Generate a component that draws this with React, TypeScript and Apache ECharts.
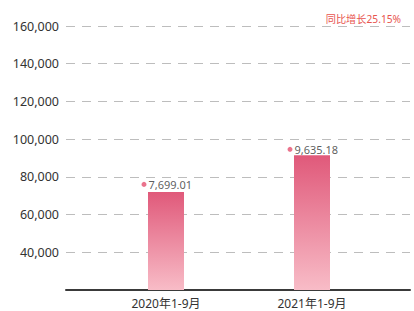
import React, { useEffect, useRef } from "react";
import * as echarts from "echarts";

const categories = ["2020年1-9月", "2021年1-9月"];
const barValues = [72000, 91500];
const dotValues = [76000, 94600];
const labelValues = [7699.01, 9635.18];
const yTicks = { min: 20000, max: 160000, interval: 20000 };
const growthText = "同比增长25.15%";

const FONT = "'Noto Sans', 'Noto Sans CJK SC', sans-serif";

export default function App() {
  const ref = useRef<HTMLDivElement>(null);
  useEffect(() => {
    if (!ref.current) return;
    const chart = echarts.init(ref.current, null, { renderer: "svg" });
    const fmt = (v: number) =>
      v.toLocaleString("en-US", { minimumFractionDigits: 2, maximumFractionDigits: 2 });
    chart.setOption({
      animation: false,
      textStyle: { fontFamily: FONT },
      grid: [
        { left: 66, right: 4, top: 26, bottom: 21 },
        { left: 93, right: 29, top: 26, bottom: 21 },
      ],
      xAxis: [
        {
          type: "category",
          gridIndex: 0,
          data: categories,
          axisLabel: { show: false },
          axisTick: { show: false },
          axisLine: { show: true, lineStyle: { color: "#3a3a3a", width: 2 } },
        },
        {
          type: "category",
          gridIndex: 1,
          data: categories,
          axisLine: { show: false },
          axisTick: { show: false },
          axisLabel: { color: "#333", fontSize: 12, margin: 7, fontFamily: FONT },
        },
      ],
      yAxis: [
        {
          type: "value",
          gridIndex: 0,
          min: yTicks.min,
          max: yTicks.max,
          interval: yTicks.interval,
          axisLine: { show: false },
          axisTick: { show: false },
          axisLabel: {
            color: "#333",
            fontSize: 12.5,
            margin: 7,
            fontFamily: FONT,
            formatter: (v: number) => (v === yTicks.min ? "" : v.toLocaleString("en-US")),
          },
          splitLine: {
            show: true,
            lineStyle: { color: "#bdbdbd", type: [9, 7], width: 1 },
          },
        },
        {
          type: "value",
          gridIndex: 1,
          min: yTicks.min,
          max: yTicks.max,
          interval: yTicks.interval,
          show: false,
          splitLine: { show: false },
        },
      ],
      graphic: [
        {
          type: "text",
          right: 13,
          top: 14,
          style: { text: growthText, fill: "#e8544e", fontSize: 10.2, fontFamily: FONT },
        },
      ],
      series: [
        {
          type: "bar",
          xAxisIndex: 1,
          yAxisIndex: 1,
          data: barValues,
          barWidth: 36,
          itemStyle: {
            color: new echarts.graphic.LinearGradient(0, 0, 0, 1, [
              { offset: 0, color: "#e0597a" },
              { offset: 1, color: "#f8bcc7" },
            ]),
          },
        },
        {
          type: "scatter",
          xAxisIndex: 1,
          yAxisIndex: 1,
          data: dotValues,
          symbol: "circle",
          symbolSize: 5,
          symbolOffset: [-22, 0],
          itemStyle: { color: "#e5506f" },
          z: 5,
          label: {
            show: true,
            position: "right",
            distance: 2,
            color: "#333",
            fontSize: 11,
            fontFamily: FONT,
            formatter: (p: any) => fmt(labelValues[p.dataIndex]),
          },
        },
      ],
    });
    return () => chart.dispose();
  }, []);
  return (
    <div
      ref={ref}
      style={{ position: "fixed", left: 0, top: 0, width: 414, height: 311, background: "#fff" }}
    />
  );
}
